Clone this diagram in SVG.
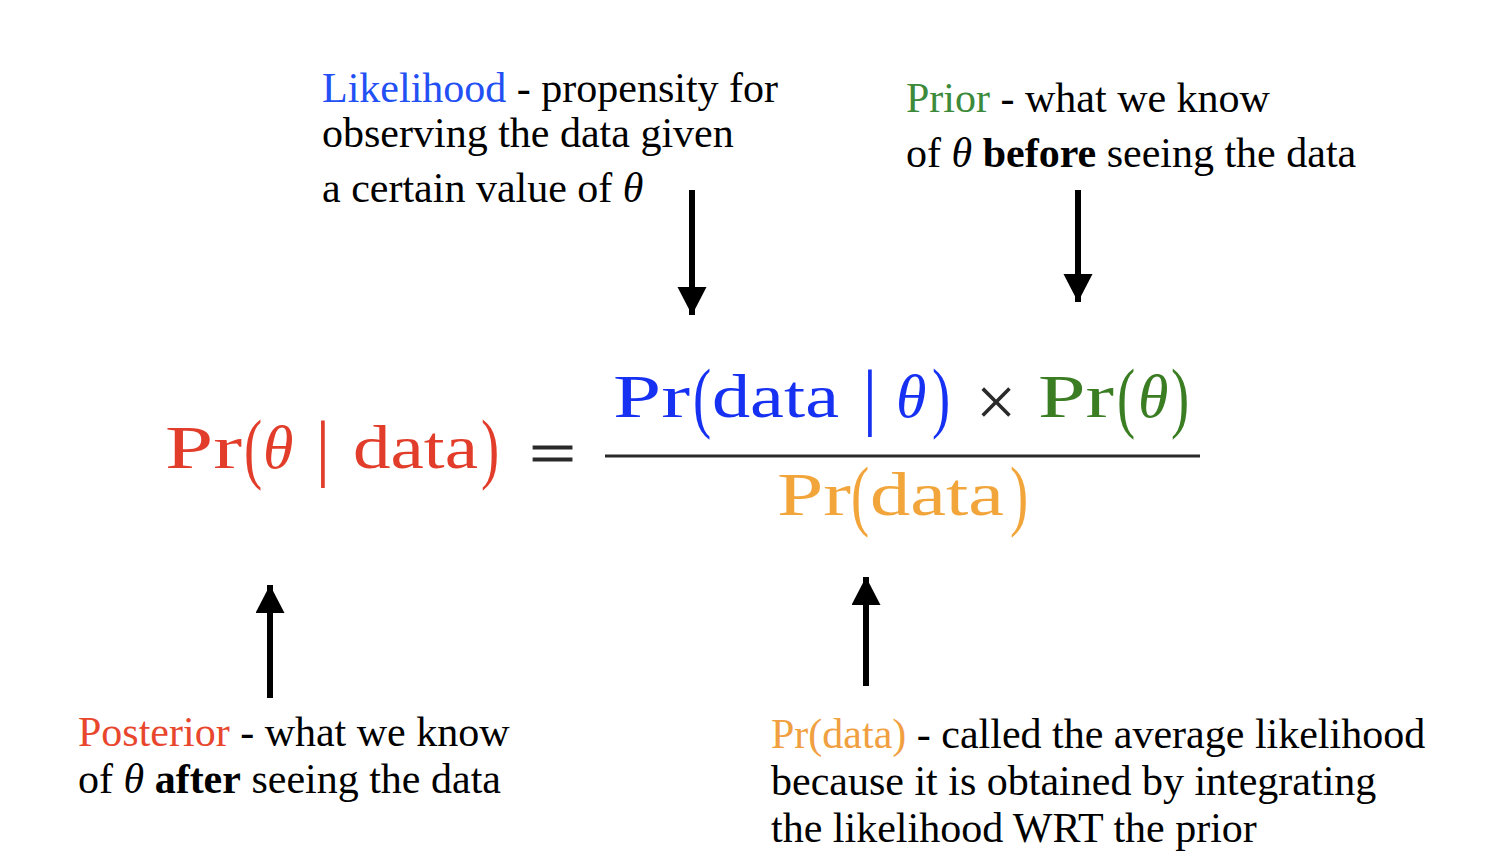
<svg xmlns="http://www.w3.org/2000/svg" width="1496" height="864" viewBox="0 0 1496 864">
<defs>
<marker id="ah" markerUnits="userSpaceOnUse" markerWidth="30" markerHeight="30" refX="28" refY="14.5" orient="auto">
<path d="M0,0 L28,14.5 L0,29 Z" fill="#000"/>
</marker>
<style>
.lbl{font-family:"Liberation Serif","Times New Roman",serif;font-size:42px;fill:#000}
.it{font-style:italic}
.b{font-weight:bold}
.m{font-family:"Liberation Serif","Times New Roman",serif;font-size:62px}
.mi{font-family:"Liberation Serif","Times New Roman",serif;font-size:62px;font-style:italic}
.p{font-family:"Liberation Serif","Times New Roman",serif;font-size:78px;text-anchor:middle}
.bar{font-family:"Liberation Serif","Times New Roman",serif;font-size:74px;text-anchor:middle}
.red{fill:#E23D2A}.blue{fill:#1631F2}.green{fill:#3A7D22}.orange{fill:#F2A53A}.dark{fill:#2a2a2a}
.lred{fill:#E8472D}.lblue{fill:#2350F5}.lgreen{fill:#3C8A3A}.lorange{fill:#F0A040}
.arr{stroke:#000;stroke-width:6;fill:none;marker-end:url(#ah)}
</style>
</defs>
<rect width="1496" height="864" fill="#fff"/>

<g id="likelihood-label">
<text class="lbl" x="322" y="102"><tspan class="lblue">Likelihood</tspan> - propensity for</text>
<text class="lbl" x="322" y="147">observing the data given</text>
<text class="lbl" x="322" y="202">a certain value of <tspan class="it">θ</tspan></text>
</g>

<g id="prior-label">
<text class="lbl" x="906" y="112"><tspan class="lgreen">Prior</tspan> - what we know</text>
<text class="lbl" x="906" y="167">of <tspan class="it">θ</tspan> <tspan class="b">before</tspan> seeing the data</text>
</g>

<g id="posterior-label">
<text class="lbl" x="78" y="746"><tspan class="lred">Posterior</tspan> - what we know</text>
<text class="lbl" x="78" y="793">of <tspan class="it">θ</tspan> <tspan class="b">after</tspan> seeing the data</text>
</g>

<g id="evidence-label">
<text class="lbl" x="771" y="748"><tspan class="lorange">Pr(data)</tspan> - called the average likelihood</text>
<text class="lbl" x="771" y="795">because it is obtained by integrating</text>
<text class="lbl" x="771" y="842">the likelihood WRT the prior</text>
</g>

<g id="equation">
<!-- posterior -->
<text class="m red" x="165" y="468" textLength="77" lengthAdjust="spacingAndGlyphs">Pr</text>
<text class="p red" transform="translate(253,474) scale(0.7,1)">(</text>
<text class="mi red" x="263" y="468">θ</text>
<text class="bar red" x="323" y="472">|</text>
<text class="m red" x="353" y="468" textLength="125" lengthAdjust="spacingAndGlyphs">data</text>
<text class="p red" transform="translate(490,474) scale(0.7,1)">)</text>
<text class="m dark" x="529" y="474" textLength="47" lengthAdjust="spacingAndGlyphs" stroke="#2a2a2a" stroke-width="0.8">=</text>
<!-- numerator -->
<text class="m blue" x="613" y="417" textLength="77" lengthAdjust="spacingAndGlyphs">Pr</text>
<text class="p blue" transform="translate(702,423) scale(0.7,1)">(</text>
<text class="m blue" x="712" y="417" textLength="127" lengthAdjust="spacingAndGlyphs">data</text>
<text class="bar blue" x="870" y="421">|</text>
<text class="mi blue" x="896" y="417">θ</text>
<text class="p blue" transform="translate(941,423) scale(0.7,1)">)</text>
<text class="m dark" x="996" y="426" style="text-anchor:middle;font-size:72px">×</text>
<text class="m green" x="1038" y="417" textLength="76" lengthAdjust="spacingAndGlyphs">Pr</text>
<text class="p green" transform="translate(1126,423) scale(0.7,1)">(</text>
<text class="mi green" x="1138" y="417">θ</text>
<text class="p green" transform="translate(1180,423) scale(0.7,1)">)</text>
<line x1="605" y1="456" x2="1200" y2="456" stroke="#2a2a2a" stroke-width="3"/>
<!-- denominator -->
<text class="m orange" x="777" y="515" textLength="74" lengthAdjust="spacingAndGlyphs">Pr</text>
<text class="p orange" transform="translate(860,521) scale(0.7,1)">(</text>
<text class="m orange" x="870" y="515" textLength="134" lengthAdjust="spacingAndGlyphs">data</text>
<text class="p orange" transform="translate(1019,521) scale(0.7,1)">)</text>
</g>

<g id="connectors">
<line class="arr" x1="692" y1="190" x2="692" y2="315"/>
<line class="arr" x1="1078" y1="190" x2="1078" y2="302"/>
<line class="arr" x1="270" y1="698" x2="270" y2="585"/>
<line class="arr" x1="866" y1="686" x2="866" y2="577"/>
</g>
</svg>
